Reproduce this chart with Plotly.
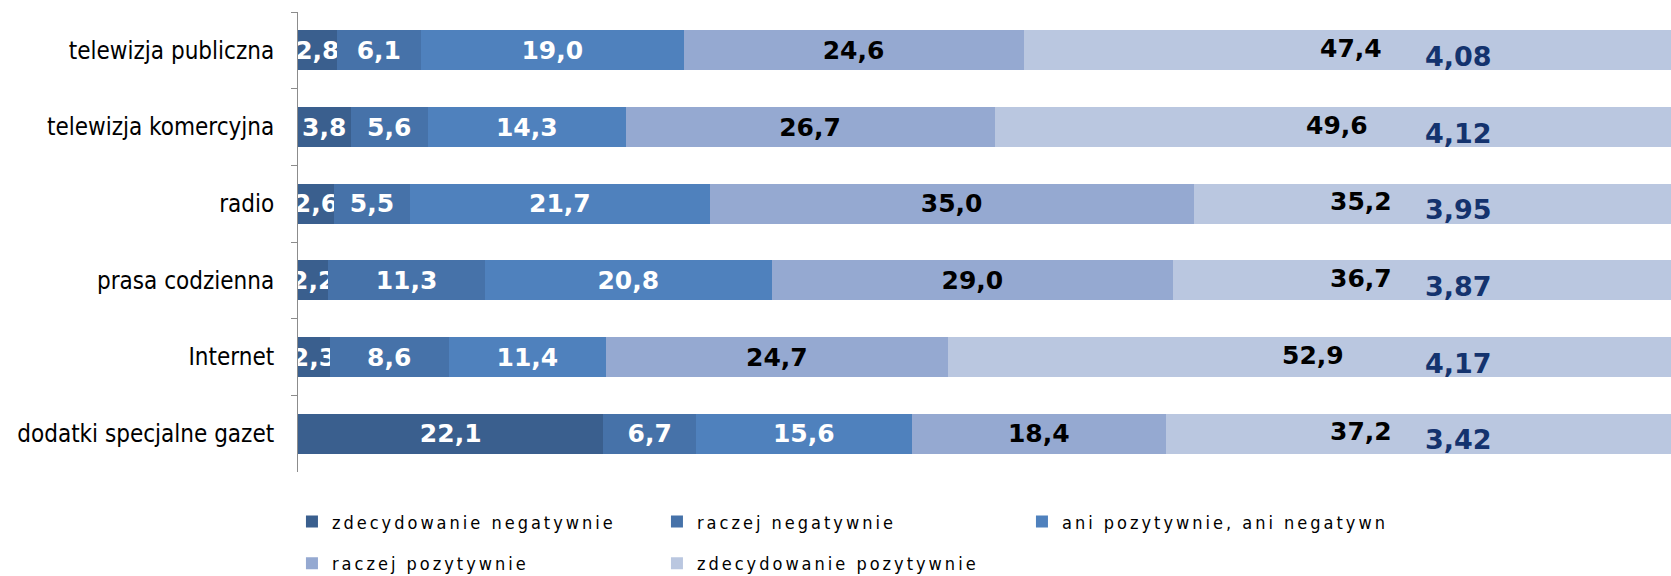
import plotly.graph_objects as go

categories = ["telewizja publiczna", "telewizja komercyjna", "radio",
              "prasa codzienna", "Internet", "dodatki specjalne gazet"]
series_names = ["zdecydowanie negatywnie", "raczej negatywnie",
                "ani pozytywnie, ani negatywn", "raczej pozytywnie",
                "zdecydowanie pozytywnie"]
zdec_neg = [2.8, 3.8, 2.6, 2.2, 2.3, 22.1]
raczej_neg = [6.1, 5.6, 5.5, 11.3, 8.6, 6.7]
ani = [19.0, 14.3, 21.7, 20.8, 11.4, 15.6]
raczej_poz = [24.6, 26.7, 35.0, 29.0, 24.7, 18.4]
zdec_poz = [47.4, 49.6, 35.2, 36.7, 52.9, 37.2]
means = [4.08, 4.12, 3.95, 3.87, 4.17, 3.42]

values = [zdec_neg, raczej_neg, ani, raczej_poz, zdec_poz]
colors = ["#3A5F8E", "#4672A9", "#4F81BD", "#95A9D1", "#BAC7E0"]
text_colors = ["white", "white", "white", "black", "black"]
legends = ["legend", "legend", "legend", "legend2", "legend2"]

def fmt(v, d=1):
    return f"{v:.{d}f}".replace(".", ",")

LABEL_FONT = dict(family="DejaVu Sans", size=25, weight="bold")

fig = go.Figure()
for i, (name, vals, col, tc, lg) in enumerate(zip(series_names, values, colors, text_colors, legends)):
    last = i == len(values) - 1
    fig.add_trace(go.Bar(
        y=categories, x=vals, name=name, orientation="h",
        marker=dict(color=col, line=dict(width=0)),
        text=None if last else [fmt(v) for v in vals],
        textposition="none" if last else "inside",
        insidetextanchor="middle", textangle=0, constraintext="none",
        textfont=dict(LABEL_FONT, color=tc),
        legend=lg, hoverinfo="skip",
    ))

# labels of the last segment: centred, but kept clear of the mean value
for j, cat in enumerate(categories):
    start = sum(v[j] for v in values[:-1])
    centre = start + zdec_poz[j] / 2
    fig.add_annotation(x=min(centre, 76.9), y=cat, text=fmt(zdec_poz[j]),
                       showarrow=False, yshift=2, xanchor="center",
                       font=dict(LABEL_FONT, color="black"))

for cat, m in zip(categories, means):
    fig.add_annotation(x=0.845, xref="paper", y=cat, yref="y", text=fmt(m, 2),
                       showarrow=False, yshift=-6, xanchor="center",
                       font=dict(family="DejaVu Sans", size=27, color="#14336E", weight="bold"))

LEG_FONT = dict(family="DejaVu Sans Condensed", size=18, color="black")
fig.update_layout(
    width=1671, height=576,
    margin=dict(l=298, r=0, t=12, b=104, autoexpand=False),
    barmode="stack", bargap=0.48,
    plot_bgcolor="white", paper_bgcolor="white",
    xaxis=dict(range=[0, 99.35], visible=False, fixedrange=True),
    yaxis=dict(autorange="reversed", type="category", showline=True,
               linecolor="#8C8C8C", linewidth=1, ticks="outside", ticklen=6,
               tickcolor="#8C8C8C", tickson="boundaries", showgrid=False,
               ticklabelstandoff=18, fixedrange=True,
               tickfont=dict(family="DejaVu Sans Condensed", size=24, color="black")),
    legend=dict(orientation="h", x=-0.0044, xanchor="left", y=-0.068, yanchor="top",
                entrywidth=320, entrywidthmode="pixels", font=LEG_FONT,
                traceorder="normal", bgcolor="rgba(0,0,0,0)"),
    legend2=dict(orientation="h", x=-0.0044, xanchor="left", y=-0.159, yanchor="top",
                 entrywidth=320, entrywidthmode="pixels", font=LEG_FONT,
                 traceorder="normal", bgcolor="rgba(0,0,0,0)"),
    showlegend=True,
)

post = """
document.body.style.margin='0';
document.body.style.overflow='hidden';
var st = document.createElement('style');
st.textContent = '.legendtext, .legend2text{letter-spacing:3px !important;}';
document.head.appendChild(st);
"""
fig.write_html("out.html", post_script=post, config={"displayModeBar": False})
